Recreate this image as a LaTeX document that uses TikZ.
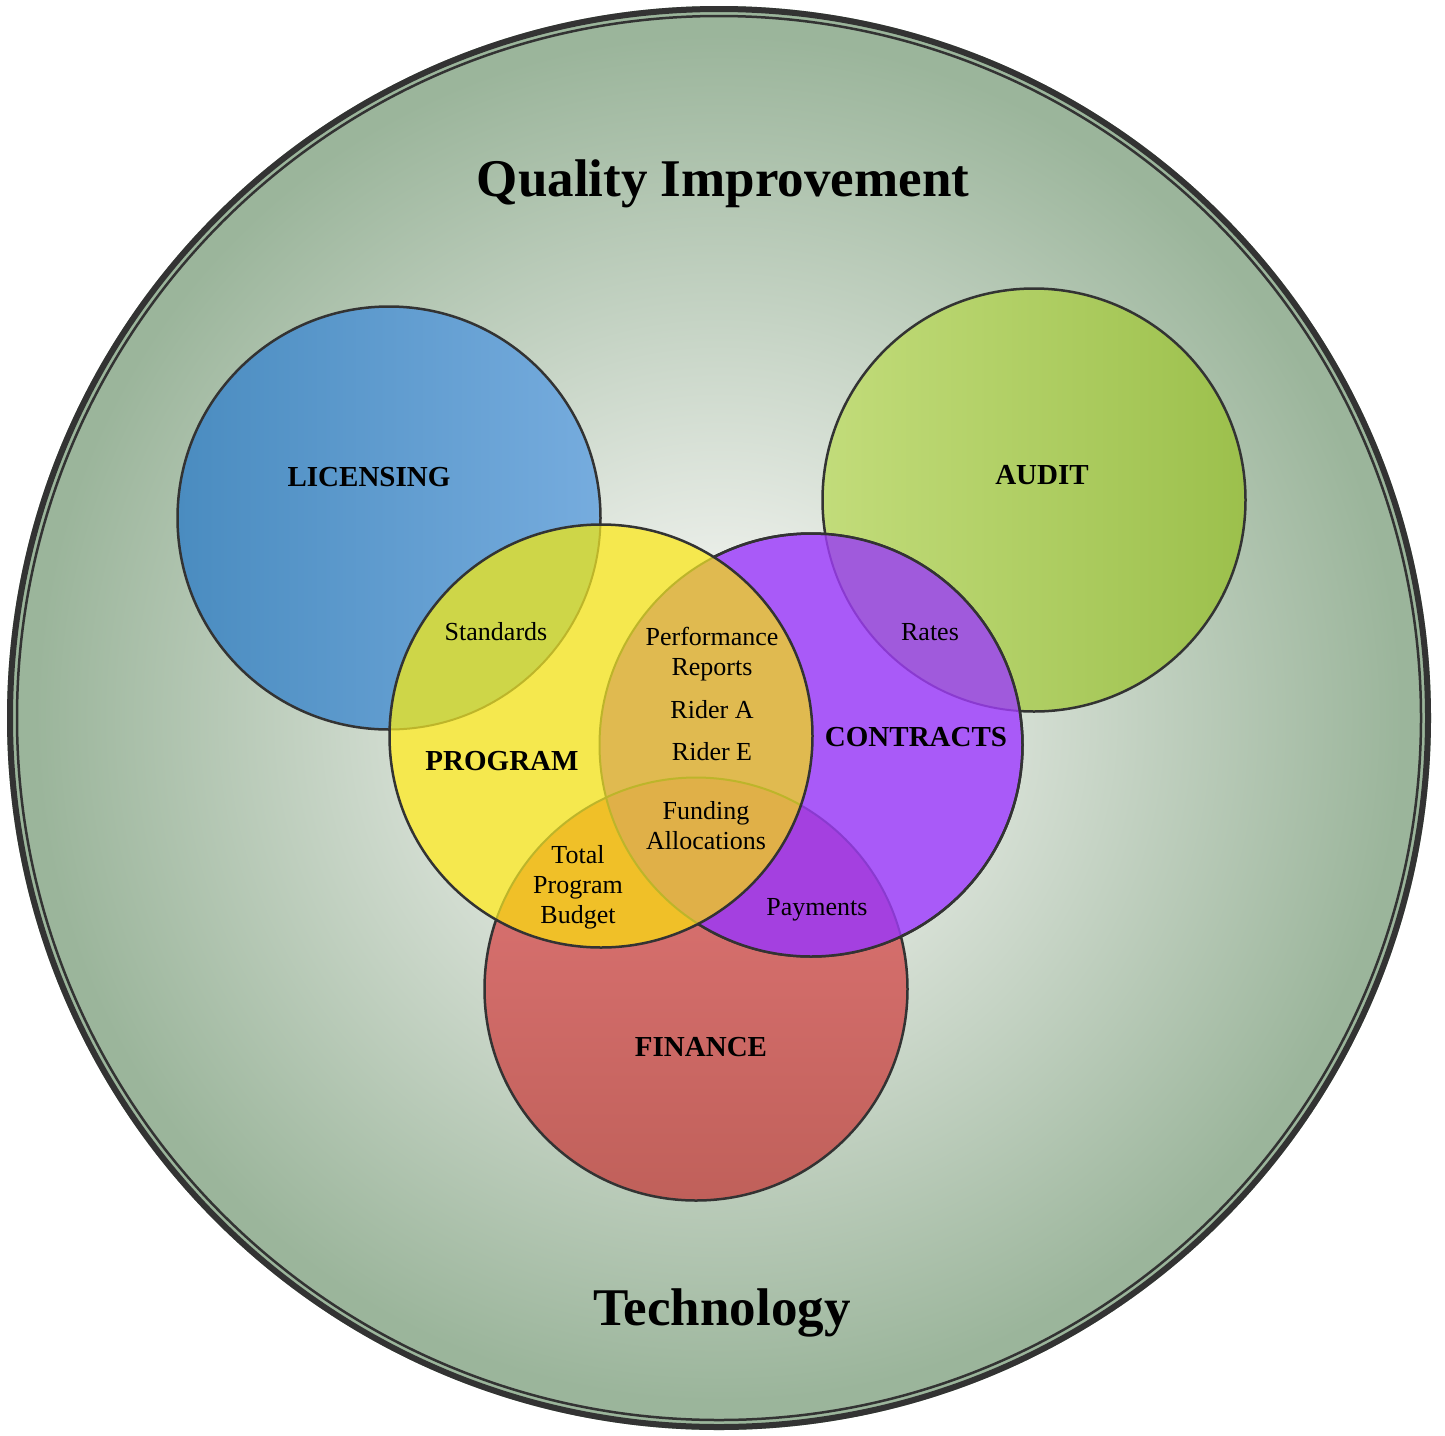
\documentclass[tikz,border=0pt]{standalone}
\usepackage{fontspec}
\setmainfont{Liberation Serif}
\definecolor{ringline}{HTML}{333333}
\definecolor{qigreen}{HTML}{9BB59B}
\definecolor{qicenter}{HTML}{F4F5F2}
\definecolor{licA}{HTML}{4A8CC0}
\definecolor{licB}{HTML}{76ACDE}
\definecolor{audA}{HTML}{C2DC7A}
\definecolor{audB}{HTML}{9CC04C}
\definecolor{finA}{HTML}{E07676}
\definecolor{finB}{HTML}{C0605A}
\definecolor{concol}{HTML}{A95AF8}
\definecolor{prgcol}{HTML}{F5E84E}
\definecolor{licprg}{HTML}{CED648}
\definecolor{prgcon}{HTML}{E0BA50}
\definecolor{prgfin}{HTML}{F0C028}
\definecolor{prgconfin}{HTML}{E0B048}
\definecolor{confin}{HTML}{A440E0}
\definecolor{conaud}{HTML}{A05ADC}
\definecolor{prgedge}{HTML}{BDB52A}
\definecolor{conedge}{HTML}{8A3AD0}
\pgfdeclareradialshading{qishade}{\pgfpoint{0bp}{0bp}}{color(0bp)=(qicenter); color(3bp)=(qicenter); color(24bp)=(qigreen); color(50bp)=(qigreen)}

\begin{document}
\begin{tikzpicture}[x=1pt,y=-1pt,
      ring/.style = {draw=ringline, line width=2.5pt},
      faintprg/.style = {draw=prgedge, line width=2pt},
      faintcon/.style = {draw=conedge, line width=2pt},
      toplbl/.style = {font=\fontsize{53}{60}\selectfont\bfseries, anchor=base},
      setlbl/.style = {font=\fontsize{29}{34}\selectfont\bfseries, anchor=base},
      itemlbl/.style = {font=\fontsize{26}{30}\selectfont, align=center, anchor=base}
      ]
      \useasboundingbox (0,0) rectangle (1445,1435);
      \coordinate (qi) at (719,718);
      \coordinate (lic) at (389,518);
      \coordinate (aud) at (1034,500);
      \coordinate (prg) at (601,736);
      \coordinate (con) at (811,745);
      \coordinate (fin) at (696,989);

      \shade[shading=qishade] (qi) circle (712pt);
      \draw[ringline, line width=6pt] (qi) circle (709pt);
      \draw[ringline, line width=2.5pt] (qi) circle (702pt);

      \draw[ring, left color=licA, right color=licB] (lic) circle (211.5pt);
      \draw[ring, left color=audA, right color=audB] (aud) circle (211.5pt);
      \draw[ring, top color=finA, bottom color=finB] (fin) circle (211.5pt);
      \draw[ring, fill=concol] (con) circle (211.5pt);

      \begin{scope}
        \clip (con) circle (211.5pt);
        \fill[conaud] (aud) circle (211.5pt);
        \fill[confin] (fin) circle (211.5pt);
        \draw[faintcon] (aud) circle (211.5pt);
        \draw[faintcon] (fin) circle (211.5pt);
      \end{scope}
      \draw[ring] (con) circle (211.5pt);

      \fill[prgcol] (prg) circle (211.5pt);
      \begin{scope}
        \clip (prg) circle (211.5pt);
        \fill[licprg] (lic) circle (211.5pt);
        \fill[prgcon] (con) circle (211.5pt);
        \fill[prgfin] (fin) circle (211.5pt);
        \begin{scope}
          \clip (con) circle (211.5pt);
          \fill[prgconfin] (fin) circle (211.5pt);
        \end{scope}
        \draw[faintprg] (lic) circle (211.5pt);
        \draw[faintprg] (con) circle (211.5pt);
        \draw[faintprg] (fin) circle (211.5pt);
      \end{scope}
      \draw[ring] (prg) circle (211.5pt);

      \node[toplbl] (qititle) at (723,196) {Quality Improvement};
      \node[toplbl] (techtitle) at (722,1325) {Technology};

      \node[setlbl] (liclbl) at (369,486) {LICENSING};
      \node[setlbl] (audlbl) at (1042,484) {AUDIT};
      \node[setlbl] (prglbl) at (502,770) {PROGRAM};
      \node[setlbl] (conlbl) at (916,746) {CONTRACTS};
      \node[setlbl] (finlbl) at (701,1056) {FINANCE};

      \node[itemlbl] (std) at (496,640) {Standards};
      \node[itemlbl] (perf) at (712,675) {Performance\\Reports};
      \node[itemlbl] (ridera) at (712,718) {Rider A};
      \node[itemlbl] (ridere) at (712,760) {Rider E};
      \node[itemlbl] (fund) at (706,849) {Funding\\Allocations};
      \node[itemlbl] (total) at (578,923) {Total\\Program\\Budget};
      \node[itemlbl] (rates) at (930,640) {Rates};
      \node[itemlbl] (pay) at (817,915) {Payments};
    \end{tikzpicture}
\end{document}
